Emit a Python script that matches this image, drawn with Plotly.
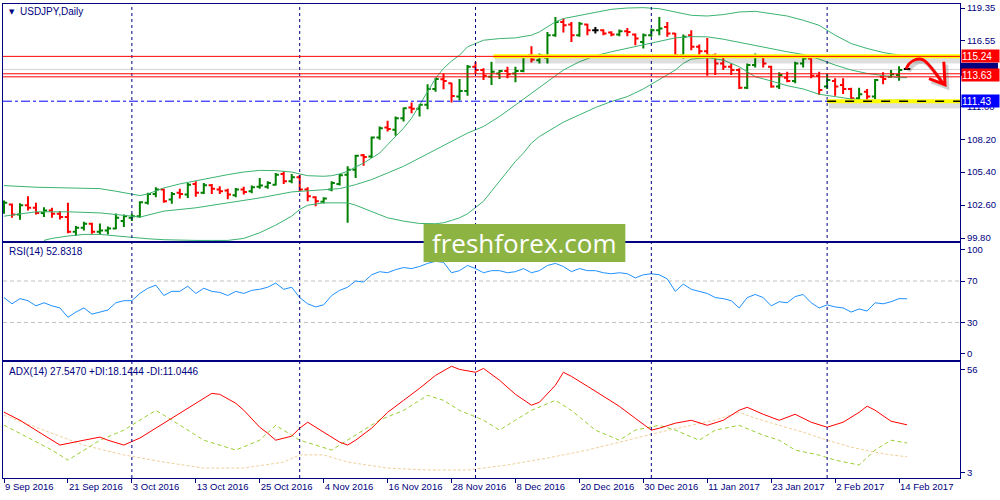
import numpy as np
import pandas as pd
import plotly.graph_objects as go

# ---------------- data ----------------
dates = pd.bdate_range("2016-09-09", "2017-02-15")

opens = [102.09, 102.65, 101.81, 102.59, 102.37, 101.94, 102.14, 101.86, 101.58, 100.34,
         100.68, 101.02, 100.34, 100.45, 100.62, 101.24, 101.52, 101.66, 102.79, 103.55,
         103.92, 103.07, 103.64, 103.50, 104.40, 103.64, 104.29, 103.92, 103.84, 103.44,
         103.92, 103.78, 104.15, 104.17, 104.34, 105.25, 104.63, 104.96, 103.92, 103.27,
         102.88, 103.92, 104.40, 105.19, 105.61, 106.83, 106.74, 108.35, 109.20, 109.00,
         109.99, 110.89, 110.78, 111.12, 112.47, 113.29, 112.95, 111.82, 112.30, 114.36,
         114.08, 113.51, 113.79, 113.99, 113.79, 113.99, 115.34, 114.92, 115.12, 117.04,
         118.17, 117.94, 117.04, 117.94, 117.46, 117.46, 117.26, 117.09, 117.38, 117.09,
         116.47, 117.04, 117.46, 117.74, 117.18, 115.34, 117.04, 116.05, 115.68, 115.34,
         114.64, 114.36, 114.08, 112.58, 114.50, 115.20, 114.36, 112.67, 113.43, 113.15,
         114.64, 115.06, 113.60, 112.67, 113.15, 112.81, 112.47, 111.68, 112.24, 111.82,
         113.51, 113.51, 113.65, 114.16]
highs = [102.99, 102.74, 102.76, 103.36, 102.79, 102.42, 102.37, 102.09, 102.79, 100.82,
         101.19, 101.10, 101.04, 100.79, 101.89, 101.81, 101.86, 102.93, 103.64, 104.12,
         104.00, 103.72, 104.00, 104.48, 104.63, 104.48, 104.40, 104.20, 104.00, 104.06,
         104.17, 104.26, 104.91, 104.63, 105.33, 105.47, 105.25, 105.19, 104.12, 103.36,
         103.27, 104.63, 105.25, 105.90, 106.88, 106.94, 108.44, 109.28, 109.76, 110.13,
         110.89, 111.31, 111.17, 112.86, 113.43, 113.79, 112.99, 113.31, 114.50, 114.78,
         114.22, 114.78, 114.08, 114.36, 114.36, 115.34, 116.11, 115.49, 117.32, 118.59,
         118.45, 118.17, 118.17, 118.02, 117.74, 117.54, 117.38, 117.52, 117.66, 117.18,
         117.18, 117.60, 118.59, 118.17, 117.23, 117.09, 117.46, 116.25, 116.81, 115.49,
         115.20, 114.64, 114.22, 114.64, 115.49, 115.34, 114.44, 113.88, 113.93, 114.78,
         115.34, 115.26, 113.93, 113.71, 113.37, 113.37, 112.58, 112.58, 112.47, 113.31,
         113.88, 114.08, 114.41, 114.22]
lows = [101.86, 101.52, 101.35, 102.14, 101.81, 101.58, 101.52, 101.38, 100.20, 99.97,
        100.45, 100.17, 100.11, 100.11, 100.54, 100.73, 101.24, 101.52, 102.65, 103.27,
        102.79, 102.71, 103.16, 103.21, 103.30, 103.55, 103.55, 103.55, 103.10, 103.27,
        103.50, 103.61, 104.00, 104.00, 104.26, 104.40, 104.46, 103.78, 102.93, 102.51,
        102.74, 103.78, 104.26, 101.10, 104.91, 105.95, 106.60, 108.15, 108.86, 108.49,
        109.70, 110.41, 110.13, 110.75, 112.24, 112.44, 111.31, 111.48, 111.90, 113.79,
        113.23, 112.81, 113.31, 113.37, 113.03, 113.88, 114.72, 114.64, 114.64, 116.90,
        117.26, 116.47, 116.90, 117.04, 117.18, 117.04, 116.95, 116.95, 116.95, 116.19,
        115.91, 116.90, 117.04, 116.90, 115.20, 115.06, 115.77, 115.20, 113.60, 113.65,
        114.08, 113.65, 112.47, 112.47, 114.30, 114.30, 112.58, 112.47, 113.03, 112.95,
        114.30, 113.37, 111.96, 112.47, 111.90, 112.04, 111.45, 111.45, 111.45, 111.62,
        112.86, 113.43, 113.17, 114.10]
closes = [102.79, 101.81, 102.59, 102.37, 101.94, 102.14, 101.86, 101.58, 100.34, 100.68,
          101.02, 100.34, 100.45, 100.62, 101.52, 101.66, 101.66, 102.85, 103.55, 103.92,
          102.93, 103.55, 103.55, 104.34, 103.64, 104.29, 103.98, 103.78, 103.50, 103.92,
          103.72, 104.12, 104.26, 104.48, 105.19, 104.63, 104.96, 103.92, 103.36, 102.93,
          103.16, 104.48, 105.13, 105.61, 106.80, 106.69, 108.35, 109.14, 109.06, 109.99,
          110.83, 110.78, 111.12, 112.47, 113.31, 113.15, 111.88, 112.30, 114.36, 114.08,
          113.60, 113.93, 113.99, 113.71, 113.99, 115.20, 114.98, 115.34, 117.04, 118.17,
          117.88, 117.04, 118.02, 117.46, 117.46, 117.18, 117.09, 117.38, 117.32, 116.75,
          117.04, 117.46, 117.60, 117.18, 115.34, 116.90, 116.05, 115.68, 115.34, 114.64,
          114.36, 114.08, 112.58, 114.50, 115.20, 114.64, 112.67, 113.65, 113.15, 114.64,
          115.06, 113.60, 112.38, 113.23, 112.67, 112.47, 111.68, 112.02, 111.82, 113.23,
          113.31, 113.71, 114.08, 114.16]

# Bollinger bands (bar index -> price)
bb_up_x = [0, 4, 8, 12, 14, 16, 17, 18, 20, 22, 24, 26, 28, 30, 32, 34, 36, 37, 38, 40,
           41, 42, 43, 44, 45, 46, 47, 48, 49, 50, 51, 52, 53, 54, 55, 56, 57, 58, 60, 62,
           64, 66, 67, 68, 69, 70, 72, 74, 76, 78, 80, 82, 84, 86, 88, 90, 92, 94, 96, 98,
           100, 102, 104, 106, 108, 110, 112, 113]
bb_up = [104.26, 104.12, 104.06, 104.00, 103.78, 103.55, 103.41, 103.55, 104.06, 104.40,
         104.68, 104.96, 105.19, 105.41, 105.55, 105.53, 105.41, 105.25, 105.10, 105.05,
         105.10, 105.25, 105.47, 105.84, 106.17, 106.60, 107.02, 107.73, 108.43, 109.14,
         109.98, 111.11, 112.24, 113.37, 114.22, 114.84, 115.34, 116.05, 116.61, 116.75,
         116.81, 117.04, 117.32, 117.74, 118.17, 118.45, 118.73, 119.01, 119.24, 119.35,
         119.38, 119.29, 119.01, 118.73, 118.67, 118.79, 119.01, 119.07, 118.87, 118.67,
         118.31, 117.88, 117.04, 116.33, 115.91, 115.57, 115.34, 115.29]
bb_mid_x = [0, 4, 8, 12, 16, 17, 20, 24, 28, 32, 36, 40, 42, 44, 46, 48, 50, 52, 54, 56,
            58, 60, 62, 64, 66, 68, 70, 72, 74, 76, 78, 80, 82, 84, 86, 88, 90, 92, 94, 96,
            98, 100, 102, 104, 106, 108, 110, 112, 113]
bb_mid = [101.66, 102.03, 102.03, 101.94, 101.66, 101.58, 102.09, 102.37, 102.79, 103.21,
          103.72, 103.92, 104.00, 104.34, 104.77, 105.33, 105.90, 106.60, 107.30, 108.01,
          108.72, 109.28, 110.13, 111.11, 112.10, 113.09, 114.08, 114.78, 115.29, 115.63,
          115.91, 116.25, 116.53, 116.81, 116.92, 116.90, 116.70, 116.42, 116.13, 115.85,
          115.63, 115.40, 115.01, 114.50, 114.08, 113.79, 113.60, 113.43, 113.43]
bb_lo_x = [5, 6, 8, 10, 12, 14, 16, 18, 20, 22, 24, 26, 28, 30, 32, 34, 36, 37, 38, 40,
           42, 43, 44, 46, 48, 50, 52, 54, 55, 56, 57, 58, 60, 61, 62, 63, 64, 65, 66, 67,
           68, 70, 72, 74, 76, 78, 80, 82, 84, 85, 86, 88, 90, 92, 94, 96, 98, 100, 102, 104,
           106, 108, 110, 112, 113]
bb_lo = [99.60, 99.77, 99.97, 100.11, 100.11, 99.97, 99.83, 99.74, 99.66, 99.60,
         99.60, 99.60, 99.60, 99.77, 100.25, 100.90, 101.66, 102.23, 102.59, 102.79,
         102.79, 102.79, 102.59, 102.03, 101.52, 101.24, 101.04, 101.02, 101.10, 101.30,
         101.52, 101.86, 102.93, 103.78, 104.63, 105.47, 106.32, 107.02, 107.87, 108.43,
         108.86, 109.65, 110.27, 110.89, 111.40, 111.82, 112.47, 113.31, 114.08, 114.64,
         115.01, 115.12, 114.92, 114.36, 113.51, 113.15, 112.75, 112.47, 112.02, 111.82,
         111.62, 111.51, 111.51, 111.54, 111.54]

rsi = [54, 48, 53, 51, 46, 49, 46, 44, 35, 40, 44, 38, 40, 42, 49, 51, 51, 58, 63, 66,
       56, 60, 60, 65, 58, 63, 60, 59, 56, 60, 58, 61, 62, 64, 68, 62, 64, 54, 48, 45,
       47, 56, 61, 64, 70, 69, 76, 79, 78, 81, 83, 82, 84, 87, 89, 88, 78, 80, 85, 82,
       78, 80, 80, 78, 79, 82, 78, 80, 85, 87, 84, 79, 82, 80, 80, 78, 77, 78, 77, 73,
       76, 77, 76, 72, 60, 67, 62, 60, 58, 54, 53, 51, 44, 54, 57, 54, 46, 50, 49, 55,
       57, 49, 44, 47, 45, 44, 40, 43, 41, 49, 48, 50, 53, 52.8318]

adx_x = [0, 2, 5, 7, 10, 12, 13, 15, 17, 19, 21, 23, 25, 26, 27, 29, 30, 32, 33, 34,
         36, 37, 38, 40, 42, 43, 44, 46, 48, 50, 52, 54, 56, 57, 59, 60, 62, 64, 66, 67,
         69, 70, 71, 73, 75, 77, 79, 81, 82, 84, 86, 88, 90, 92, 93, 95, 97, 99, 101, 103,
         105, 107, 108, 109, 111, 113]
adx = [34.1, 29.9, 22.2, 17.1, 19.6, 21.2, 19.6, 17.1, 20.7, 25.8, 30.9, 36.1, 41.2, 43.8,
       43.3, 38.7, 35.1, 26.3, 23.2, 19.6, 21.7, 25.8, 28.9, 23.7, 18.6, 17.1, 19.6, 25.8,
       34.0, 40.2, 46.4, 53.1, 57.8, 56.2, 54.7, 56.7, 50.6, 43.3, 37.7, 39.2, 48.0, 54.7,
       52.6, 47.5, 42.3, 37.1, 30.9, 24.8, 25.8, 28.4, 29.9, 27.3, 29.9, 35.1, 36.6, 33.0,
       29.9, 33.0, 28.9, 26.3, 28.9, 34.0, 37.2, 35.1, 29.4, 27.547]
pdi_x = [0, 6, 8, 12, 15, 19, 21, 23, 25, 29, 32, 34, 37, 41, 43, 47, 50, 53, 55, 57,
         60, 62, 64, 66, 69, 71, 74, 77, 79, 82, 84, 87, 89, 92, 95, 97, 99, 102, 104, 107,
         109, 111, 113]
pdi = [27.4, 14.5, 9.3, 19.6, 24.8, 35, 30, 24.8, 19.6, 14.5, 19.6, 27.3, 19.6, 14.5, 19.6,
       30, 35, 42.8, 40.2, 35, 30, 24.8, 30, 35, 40.2, 35, 24.8, 19.6, 24.8, 27.3,
       24.8, 19.6, 24.8, 27.3, 22.2, 19.6, 14.5, 11.9, 9.3, 6.8, 14.5, 19.6, 18.1444]
mdi_x = [0, 5, 10, 15, 20, 25, 30, 35, 37, 40, 43, 48, 53, 58, 63, 68, 73, 78, 82, 86,
         89, 92, 94, 97, 100, 103, 106, 109, 111, 113]
mdi = [32.5, 24.8, 17, 12, 8.3, 5.2, 5.2, 8.3, 12, 12, 8.3, 5.2, 4.2, 4.2, 6.8, 10.4, 14.5,
       19.6, 23.7, 27.3, 30, 34, 31, 27.3, 23.7, 19.6, 16, 13.4, 12, 11.0446]

price_ticks = ["119.35", "116.55", "113.75", "111.00", "108.20", "105.40", "102.60", "99.80"]
price_ticks_hidden = ["113.75"]          # covered by the price labels in the picture
rsi_ticks = [0, 30, 70, 100]
adx_ticks = [3, 56]

level_support = 111.43
level_resist = 115.24
level_mid = 113.63
bid_price = 114.13

# ---------------- style ----------------
NAVY = "#000080"
FONT = "Liberation Sans"
FS = 9.5

W, H = 1000, 500
ML, MR, MT, MB = 2, 40, 2, 22
PW, PH = W - ML - MR, H - MT - MB


def px(xp):
    return (xp - ML) / PW


def py(yp):
    return (H - MB - yp) / PH


n = len(dates)
xi = np.arange(n)
o, h, l, c = map(np.array, (opens, highs, lows, closes))
doji = o == c

fig = go.Figure()

for bx, by in ((bb_up_x, bb_up), (bb_mid_x, bb_mid), (bb_lo_x, bb_lo)):
    fig.add_trace(go.Scatter(x=bx, y=by, mode="lines", line=dict(color="#3CB371", width=1),
                             xaxis="x", yaxis="y", hoverinfo="skip"))

fig.add_trace(go.Ohlc(x=xi[~doji], open=o[~doji], high=h[~doji], low=l[~doji], close=c[~doji],
                      increasing=dict(line=dict(color="#008000", width=2)),
                      decreasing=dict(line=dict(color="#FF0000", width=2)),
                      tickwidth=0.4, xaxis="x", yaxis="y"))
fig.add_trace(go.Ohlc(x=xi[doji], open=o[doji], high=h[doji], low=l[doji], close=c[doji],
                      increasing=dict(line=dict(color="#000000", width=2)),
                      decreasing=dict(line=dict(color="#000000", width=2)),
                      tickwidth=0.4, xaxis="x", yaxis="y"))

fig.add_trace(go.Scatter(x=xi, y=rsi, mode="lines", line=dict(color="#1E90FF", width=1),
                         xaxis="x2", yaxis="y2"))

fig.add_trace(go.Scatter(x=mdi_x, y=mdi, mode="lines",
                         line=dict(color="#EFCF9A", width=1, dash="3px,2px"),
                         xaxis="x3", yaxis="y3"))
fig.add_trace(go.Scatter(x=pdi_x, y=pdi, mode="lines",
                         line=dict(color="#9ACD32", width=1, dash="4px,3px"),
                         xaxis="x3", yaxis="y3"))
fig.add_trace(go.Scatter(x=adx_x, y=adx, mode="lines", line=dict(color="#FF0000", width=1),
                         xaxis="x3", yaxis="y3"))

xr = [-0.125, 119.625]
axis_common = dict(showgrid=False, zeroline=False, showline=True, mirror=True,
                   linecolor=NAVY, linewidth=1)
tick_idx = list(range(0, n, 8))
tick_txt = [f"{d.day} {d.strftime('%b %Y')}" for d in dates[tick_idx]]
price_text = ["" if t in price_ticks_hidden else t for t in price_ticks]

fig.update_layout(
    width=W, height=H, margin=dict(l=ML, r=MR, t=MT, b=MB),
    paper_bgcolor="white", plot_bgcolor="white", showlegend=False,
    font=dict(family=FONT, size=FS, color=NAVY),
    xaxis=dict(domain=[0, 1], range=xr, anchor="y", showticklabels=False, ticks="",
               rangeslider=dict(visible=False), **axis_common),
    xaxis2=dict(domain=[0, 1], range=xr, anchor="y2", matches="x", showticklabels=False, ticks="",
                **axis_common),
    xaxis3=dict(domain=[0, 1], range=xr, anchor="y3", matches="x", tickvals=tick_idx, ticktext=tick_txt,
                ticks="outside", ticklen=4, tickcolor=NAVY, ticklabelposition="outside right",
                tickfont=dict(family=FONT, size=FS, color=NAVY), **axis_common),
    yaxis=dict(domain=[py(240), 1], range=[99.55, 119.69], side="right",
               tickvals=[float(t) for t in price_ticks], ticktext=price_text,
               ticks="outside", ticklen=4, tickcolor=NAVY, tickfont=dict(family=FONT, size=FS, color=NAVY),
               anchor="x", **axis_common),
    yaxis2=dict(domain=[py(359), py(242)], range=[-5.77, 106.7], side="right",
                tickvals=rsi_ticks, ticks="outside", ticklen=4, tickcolor=NAVY,
                tickfont=dict(family=FONT, size=FS, color=NAVY), anchor="x2", **axis_common),
    yaxis3=dict(domain=[0, py(362)], range=[0.07, 59.76], side="right",
                tickvals=adx_ticks, ticks="outside", ticklen=4, tickcolor=NAVY,
                tickfont=dict(family=FONT, size=FS, color=NAVY), anchor="x3", **axis_common),
)

shapes = []
# period separators (month starts)
month_starts = [i for i in range(1, n) if dates[i].month != dates[i - 1].month]
for m in month_starts:
    shapes.append(dict(type="line", xref="x", yref="paper", x0=m, x1=m, y0=0, y1=1,
                       line=dict(color=NAVY, width=1, dash="3px,3px"), layer="above"))
# RSI levels
for lv in (30, 70):
    shapes.append(dict(type="line", xref="x2 domain", yref="y2", x0=0, x1=1, y0=lv, y1=lv,
                       line=dict(color="#C0C0C0", width=1, dash="4px,3px"), layer="below"))
# bid line
shapes.append(dict(type="line", xref="x domain", yref="y", x0=0, x1=1, y0=bid_price, y1=bid_price,
                   line=dict(color="#D3D3D3", width=1), layer="below"))
# yellow highlight zones with soft shadow
res_start = 61.25
sup_start = 103.0
for lv, x0 in ((level_resist, res_start), (level_support, sup_start)):
    shapes.append(dict(type="line", xref="x", yref="y", x0=x0 + 0.2, x1=xr[1], y0=lv - 0.36, y1=lv - 0.36,
                       line=dict(color="rgba(0,0,0,0.13)", width=6), layer="above"))
    shapes.append(dict(type="line", xref="x", yref="y", x0=x0, x1=xr[1], y0=lv, y1=lv,
                       line=dict(color="#FFFF00", width=4), layer="above"))
# level lines
shapes.append(dict(type="line", xref="x domain", yref="y", x0=0, x1=1, y0=level_resist, y1=level_resist,
                   line=dict(color="#FF0000", width=1), layer="above"))
for d in (0.13, -0.13):
    shapes.append(dict(type="line", xref="x domain", yref="y", x0=0, x1=1,
                       y0=level_mid + d, y1=level_mid + d, line=dict(color="#FF0000", width=1), layer="above"))
shapes.append(dict(type="line", xref="x", yref="y", x0=xr[0], x1=sup_start, y0=level_support, y1=level_support,
                   line=dict(color="#0000FF", width=1, dash="dashdot"), layer="above"))
shapes.append(dict(type="line", xref="x", yref="y", x0=sup_start, x1=xr[1], y0=level_support, y1=level_support,
                   line=dict(color="#000000", width=1.5, dash="dash"), layer="above"))
# hand-drawn arrow (shadow + red)
arrow = ("M 112.9,114.19 C 113.3,114.9 114.4,115.15 115.0,114.95 "
         "C 115.7,114.7 116.6,113.8 117.5,112.92 "
         "M 115.75,113.34 L 117.75,112.83 L 117.6,114.78")
arrow_sh = ("M 113.2,113.95 C 113.6,114.65 114.7,114.9 115.3,114.7 "
            "C 116.0,114.45 116.9,113.55 117.8,112.67 "
            "M 116.05,113.09 L 118.05,112.58 L 117.9,114.53")
shapes.append(dict(type="path", xref="x", yref="y", path=arrow_sh,
                   line=dict(color="rgba(0,0,0,0.18)", width=4), layer="above"))
shapes.append(dict(type="path", xref="x", yref="y", path=arrow,
                   line=dict(color="#FF0000", width=3), layer="above"))
# bid price marker box on the axis (mostly hidden behind the level labels)
shapes.append(dict(type="rect", xref="paper", yref="paper", x0=1 + 1 / PW, x1=px(998),
                   y0=py(74), y1=py(61), fillcolor="#000080", line=dict(width=0), layer="above"))
# watermark box
shapes.append(dict(type="rect", xref="paper", yref="paper", x0=px(423), x1=px(625), y0=py(261), y1=py(223),
                   fillcolor="#8DB443", line=dict(width=0), layer="above"))
fig.update_layout(shapes=shapes)

ann = []
# level labels on the right axis
for val, bg in ((level_resist, "#FF0000"), (level_mid, "#FF0000"), (level_support, "#0000FF")):
    ann.append(dict(xref="paper", yref="y", x=1, y=val, xanchor="left", yanchor="middle",
                    text=f"{val:.2f}", showarrow=False, bgcolor=bg, width=37, height=12, align="left",
                    xshift=1, borderpad=0, font=dict(family=FONT, size=FS + 0.5, color="white")))
# pane titles
ann.append(dict(xref="paper", yref="paper", x=px(6), y=py(10), xanchor="left", yanchor="middle",
                text="▼", showarrow=False, font=dict(family="DejaVu Sans", size=7, color=NAVY)))
ann.append(dict(xref="paper", yref="paper", x=px(17), y=py(10), xanchor="left", yanchor="middle",
                text="USDJPY,Daily", showarrow=False, font=dict(family=FONT, size=FS + 0.5, color=NAVY)))
ann.append(dict(xref="paper", yref="paper", x=px(6), y=py(251), xanchor="left", yanchor="middle",
                text=f"RSI(14) {rsi[-1]:.4f}", showarrow=False,
                font=dict(family=FONT, size=FS + 0.5, color=NAVY)))
ann.append(dict(xref="paper", yref="paper", x=px(6), y=py(371), xanchor="left", yanchor="middle",
                text=f"ADX(14) {adx[-1]:.4f} +DI:{pdi[-1]:.4f} -DI:{mdi[-1]:.4f}", showarrow=False,
                font=dict(family=FONT, size=FS + 0.5, color=NAVY)))
# watermark text
ann.append(dict(xref="paper", yref="paper", x=px(524), y=py(242), xanchor="center", yanchor="middle",
                text="freshforex.com", showarrow=False,
                font=dict(family="Open Sans", size=26, color="white")))
fig.update_layout(annotations=ann)

fig.write_html("out.html", config={"displayModeBar": False},
               post_script="document.body.style.margin='0';document.body.style.overflow='hidden';")
